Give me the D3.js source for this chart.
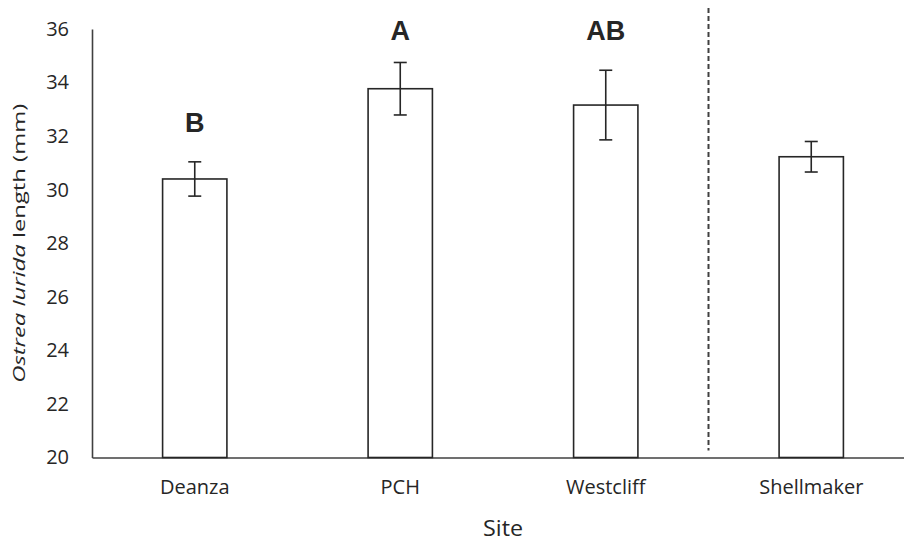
<!DOCTYPE html>
<html>
<head>
<meta charset="utf-8">
<script src="https://cdn.jsdelivr.net/npm/d3@7"></script>
<style>
  body { margin: 0; background: #fff; }
  text { font-family: "Open Sans", "Noto Sans", sans-serif; fill: #262626; }
</style>
</head>
<body>
<svg id="chart" width="904" height="542"></svg>
<script>
// data
const sites = ["Deanza", "PCH", "Westcliff", "Shellmaker"];
const meanLength = [30.4, 33.77, 33.16, 31.23];
const stdErr = [0.64, 0.98, 1.3, 0.57];
const groupLetters = ["B", "A", "AB", ""];
const letterLevel = [32.15, 35.6, 35.6, 0];
const yTicks = [20, 22, 24, 26, 28, 30, 32, 34, 36];

const svg = d3.select("#chart");
const margin = { left: 92, right: -10, top: 29, bottom: 84.5 };
const width = +svg.attr("width");
const height = +svg.attr("height");

const x = d3.scaleBand()
    .domain(sites)
    .range([margin.left, width - margin.right])
    .paddingInner(0.687)
    .paddingOuter(0.3435);

const y = d3.scaleLinear()
    .domain([20, 36])
    .range([height - margin.bottom, margin.top]);

const data = sites.map((s, i) => ({
    site: s, mean: meanLength[i], se: stdErr[i],
    letter: groupLetters[i], level: letterLevel[i]
}));

// y axis
const yAxis = d3.axisLeft(y).tickValues(yTicks).tickSize(0).tickPadding(23);
const yAxisG = svg.append("g")
    .attr("transform", `translate(${margin.left},0)`)
    .call(yAxis);
yAxisG.select(".domain").attr("stroke", "#404040").attr("stroke-width", 1.6);
yAxisG.selectAll("text").attr("font-size", 20).attr("font-family", null).attr("fill", "#262626");

// x axis
const xAxis = d3.axisBottom(x).tickSize(0).tickPadding(22);
const xAxisG = svg.append("g")
    .attr("transform", `translate(0,${y(20)})`)
    .call(xAxis);
xAxisG.select(".domain").attr("stroke", "#404040").attr("stroke-width", 1.6);
xAxisG.selectAll("text").attr("font-size", 20).attr("font-family", null).attr("fill", "#262626");

// bars
svg.append("g").selectAll("rect")
    .data(data)
    .enter().append("rect")
      .attr("x", d => x(d.site))
      .attr("y", d => y(d.mean))
      .attr("width", x.bandwidth())
      .attr("height", d => y(20) - y(d.mean))
      .attr("fill", "#fff")
      .attr("stroke", "#262626")
      .attr("stroke-width", 1.6);

// error bars
const capW = 13;
const err = svg.append("g").attr("stroke", "#262626").attr("stroke-width", 1.6);
data.forEach(d => {
    const cx = x(d.site) + x.bandwidth() / 2;
    err.append("line")
        .attr("x1", cx).attr("x2", cx)
        .attr("y1", y(d.mean + d.se)).attr("y2", y(d.mean - d.se));
    [d.mean + d.se, d.mean - d.se].forEach(v => {
        err.append("line")
            .attr("x1", cx - capW / 2).attr("x2", cx + capW / 2)
            .attr("y1", y(v)).attr("y2", y(v));
    });
});

// significance letters
svg.append("g").selectAll("text")
    .data(data.filter(d => d.letter))
    .enter().append("text")
      .attr("x", d => x(d.site) + x.bandwidth() / 2)
      .attr("y", d => y(d.level))
      .attr("text-anchor", "middle")
      .style("font-family", "Liberation Sans, Arial, sans-serif")
      .attr("font-weight", "bold")
      .attr("font-size", 27)
      .attr("fill", "#111")
      .text(d => d.letter);

// dashed separator between Westcliff and Shellmaker
const sepX = (x("Westcliff") + x("Shellmaker") + x.bandwidth()) / 2;
svg.append("line")
    .attr("x1", sepX).attr("x2", sepX)
    .attr("y1", 8).attr("y2", y(20) - 7)
    .attr("stroke", "#404040")
    .attr("stroke-width", 2)
    .attr("stroke-dasharray", "5,3");

// axis titles
svg.append("text")
    .attr("x", (margin.left + width - margin.right) / 2)
    .attr("y", 536)
    .attr("text-anchor", "middle")
    .attr("font-size", 21)
    .attr("textLength", 40)
    .attr("lengthAdjust", "spacingAndGlyphs")
    .text("Site");

const yTitle = svg.append("text")
    .attr("transform", `translate(25,${(y(20) + y(36)) / 2}) rotate(-90)`)
    .attr("text-anchor", "middle")
    .attr("font-size", 17)
    .attr("textLength", 279)
    .attr("lengthAdjust", "spacingAndGlyphs");
yTitle.append("tspan").attr("font-style", "italic").text("Ostrea lurida");
yTitle.append("tspan").text(" length (mm)");
</script>
</body>
</html>
